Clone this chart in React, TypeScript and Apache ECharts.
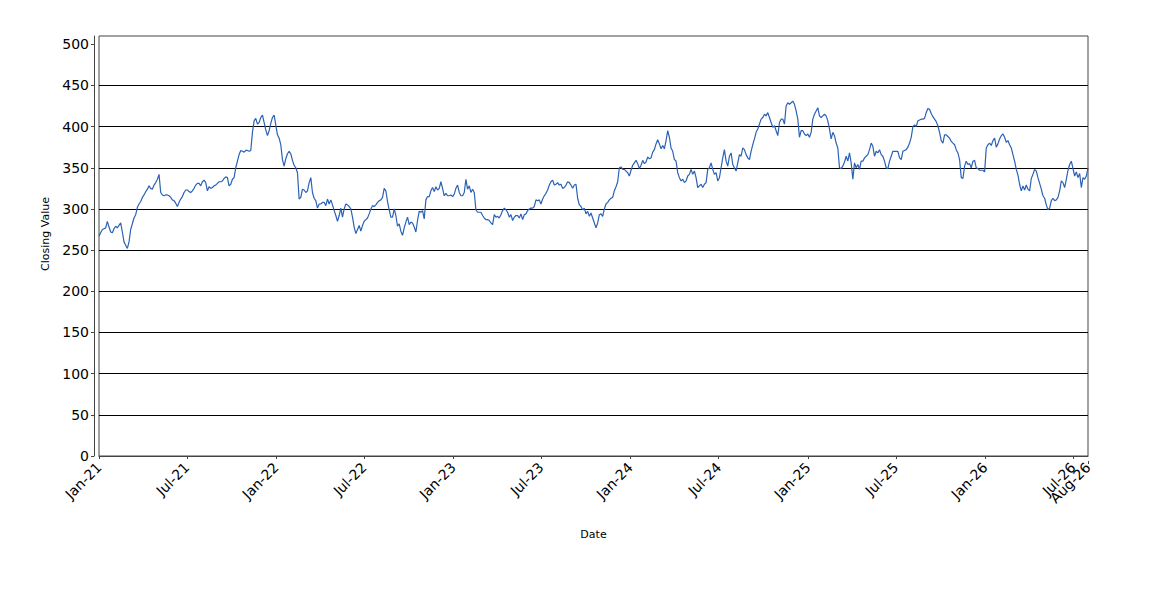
import React, { useEffect, useRef } from "react";
import * as echarts from "echarts";

// Closing values, evenly spaced in time from startDate to endDate
const closesPart1 = [
  267, 271, 275, 276, 277, 285, 278, 272, 271, 276,
  279, 277, 280, 283, 272, 260, 256, 252, 260, 275,
  282, 289, 293, 302, 306, 309, 314, 317, 321, 324,
  328, 325, 324, 329, 332, 336, 342, 320, 317, 316,
  317, 317, 316, 314, 311, 310, 307, 303, 308, 312,
  315, 320, 323, 323, 321, 320, 322, 325, 329, 331,
  331, 328, 333, 335, 332, 322, 327, 325, 326, 328,
  329, 331, 333, 333, 334, 337, 339, 338, 328, 330,
  336, 338, 350, 358, 366, 371, 370, 369, 371, 371,
  370, 371, 393, 407, 410, 403, 405, 411, 414, 405,
  396, 389, 395, 404, 411, 414, 402, 390, 386, 378,
  360, 352, 361, 367, 370, 367, 359, 353, 350, 344,
  312, 314, 324, 323, 320, 322, 332, 338, 320, 313,
  310, 301, 306, 306, 308, 308, 304, 312, 306, 311,
  305, 298, 292, 285, 292, 301, 290, 300, 306, 305,
  303,
];
const closesPart2 = [
  300, 290, 278, 270, 275, 280, 273, 280, 285, 287,
  289, 294, 300, 304, 303, 305, 308, 310, 311, 314,
  325, 322, 309, 299, 290, 290, 300, 292, 279, 282,
  273, 268, 277, 284, 290, 281, 284, 283, 278, 272,
  286, 297, 296, 298, 288, 311, 315, 315, 322, 326,
  321, 327, 323, 325, 333, 325, 316, 319, 316, 316,
  317, 315, 318, 325, 329, 320, 316, 316, 320, 336,
  324, 328, 320, 324, 320, 299, 296, 296, 296, 292,
  289, 287, 287, 286, 283, 281, 293, 290, 291, 289,
  293, 298, 301, 299, 296, 290, 293, 286, 290, 292,
  292, 289, 294, 287, 293, 294, 298, 300, 301, 301,
  303, 311, 310, 311, 306, 312, 316, 319, 323, 329,
  333, 335, 329, 330, 332, 329, 330, 325, 326, 329,
  333, 332, 329, 325, 329, 330, 313, 305, 303, 299,
  301, 294, 297, 291, 295, 289, 283, 277, 283, 293,
];
const closesPart3 = [
  294, 291, 300, 306, 308, 311, 313, 314, 322, 327,
  333, 350, 351, 348, 348, 346, 344, 340, 347, 353,
  356, 359, 355, 349, 353, 359, 355, 357, 363, 361,
  362, 369, 372, 379, 384, 379, 373, 377, 373, 383,
  395, 387, 374, 370, 360, 358, 344, 338, 334, 336,
  332, 334, 340, 342, 348, 342, 346, 338, 326, 328,
  330, 326, 330, 332, 348, 350, 356, 348, 342, 344,
  334, 338, 350, 362, 372, 358, 352, 364, 368, 354,
  350, 346, 356, 366, 364, 374, 372, 366, 362, 360,
  370, 378, 385, 393, 397, 403, 409, 411, 415, 413,
  417, 411, 405, 399, 401, 395, 389, 405, 409, 409,
  403, 425, 429, 427, 429, 431, 427, 419, 409, 387,
  395, 395, 391, 389, 391, 387, 393, 409, 415, 419,
  423, 413, 411, 413, 415, 413, 407, 397, 385, 393,
  389, 380, 374, 350, 349, 352, 357, 364, 358, 368,
];
const closesPart4 = [
  356, 336, 356, 350, 354, 348, 358, 358, 362, 364,
  366, 372, 380, 376, 364, 370, 368, 372, 366, 364,
  358, 350, 349, 358, 364, 370, 370, 370, 370, 362,
  360, 370, 371, 372, 375, 380, 387, 400, 402, 400,
  407, 408, 409, 409, 410, 417, 422, 421, 416, 412,
  409, 406, 401, 393, 383, 380, 390, 390, 388, 386,
  382, 380, 378, 372, 368, 360, 338, 337, 352, 358,
  354, 355, 350, 358, 359, 350, 349, 347, 347, 347,
  345, 374, 378, 380, 377, 383, 386, 375, 379, 385,
  389, 391, 387, 381, 383, 378, 374, 366, 358, 348,
  341, 330, 322, 328, 323, 329, 324, 322, 337, 342,
  348, 346, 338, 331, 324, 316, 313, 305, 299, 301,
  310, 313, 310, 311, 314, 322, 334, 332, 326, 336,
  347, 354, 358, 349, 340, 345, 338, 343, 326, 338,
  336, 340, 350,
];

const startDate = "2021-01-01";
const endDate = "2026-08-01";

const xTickDates = [
  "2021-01-01", "2021-07-01", "2022-01-01", "2022-07-01",
  "2023-01-01", "2023-07-01", "2024-01-01", "2024-07-01",
  "2025-01-01", "2025-07-01", "2026-01-01", "2026-07-01",
];
const xEndTickDates = ["2026-08-01"];
const yTicks = [0, 50, 100, 150, 200, 250, 300, 350, 400, 450, 500];
const monthNames = ["Jan", "Feb", "Mar", "Apr", "May", "Jun", "Jul", "Aug", "Sep", "Oct", "Nov", "Dec"];

const FONT = "DejaVu Sans";

export default function App() {
  const ref = useRef<HTMLDivElement>(null);
  useEffect(() => {
    if (!ref.current) return;
    const chart = echarts.init(ref.current, undefined, { renderer: "svg" });
    const closes = [...closesPart1, ...closesPart2, ...closesPart3, ...closesPart4];
    const t0 = Date.parse(startDate + "T00:00:00Z");
    const t1 = Date.parse(endDate + "T00:00:00Z");
    const step = (t1 - t0) / (closes.length - 1);
    const data = closes.map((v, i) => [t0 + i * step, v]);
    const toT = (d: string) => Date.parse(d + "T00:00:00Z");
    const xTicks = xTickDates.map(toT);
    const xEndTicks = xEndTickDates.map(toT);
    const fmt = (val: number) => {
      const d = new Date(val);
      const yy = String(d.getUTCFullYear() % 100).padStart(2, "0");
      return monthNames[d.getUTCMonth()] + "-" + yy;
    };
    const labelStyle = {
      rotate: 45,
      margin: 4,
      fontFamily: FONT,
      fontSize: 14,
      color: "#000",
      hideOverlap: false,
      formatter: fmt,
    };
    chart.setOption({
      animation: false,
      backgroundColor: "#ffffff",
      grid: {
        left: 99,
        right: 62,
        top: 36,
        bottom: 144,
        show: true,
        borderColor: "#444444",
        borderWidth: 1,
        backgroundColor: "#ffffff",
      },
      xAxis: [
        {
          type: "value",
          min: t0,
          max: t1,
          position: "bottom",
          offset: 5,
          name: "Date",
          nameLocation: "middle",
          nameGap: 68,
          nameTextStyle: { fontFamily: FONT, fontSize: 11, color: "#000" },
          axisLine: { show: true, lineStyle: { color: "#444444" } },
          axisTick: { show: true, length: 3, customValues: xTicks, lineStyle: { color: "#444444" } },
          axisLabel: { ...labelStyle, customValues: xTicks, showMinLabel: true, showMaxLabel: true },
          splitLine: { show: false },
        },
        {
          type: "value",
          min: t0,
          max: t1,
          position: "bottom",
          offset: 5,
          axisLine: { show: false },
          axisTick: { show: true, length: 3, customValues: xEndTicks, lineStyle: { color: "#444444" } },
          axisLabel: { ...labelStyle, customValues: xEndTicks, showMinLabel: true, showMaxLabel: true },
          splitLine: { show: false },
        },
      ],
      yAxis: {
        type: "value",
        min: 0,
        max: 510,
        interval: 50,
        offset: 5,
        name: "Closing Value",
        nameLocation: "middle",
        nameGap: 36,
        nameTextStyle: { fontFamily: FONT, fontSize: 11, color: "#000", padding: [0, 0, 0, 24] },
        axisLine: { show: true, lineStyle: { color: "#444444" } },
        axisTick: { show: true, length: 3, customValues: yTicks, lineStyle: { color: "#444444" } },
        axisLabel: {
          customValues: yTicks,
          margin: 5,
          fontFamily: FONT,
          fontSize: 14,
          color: "#000",
        },
        splitLine: { show: true, showMaxLine: false, lineStyle: { color: "#000000", width: 1 } },
      },
      series: [
        {
          type: "line",
          xAxisIndex: 0,
          data,
          showSymbol: false,
          symbol: "none",
          lineStyle: { color: "#2b62b5", width: 1.2 },
        },
      ],
    });
    return () => chart.dispose();
  }, []);
  return (
    <div
      ref={ref}
      style={{ position: "fixed", left: 0, top: 0, width: 1150, height: 600, background: "#fff" }}
    />
  );
}
